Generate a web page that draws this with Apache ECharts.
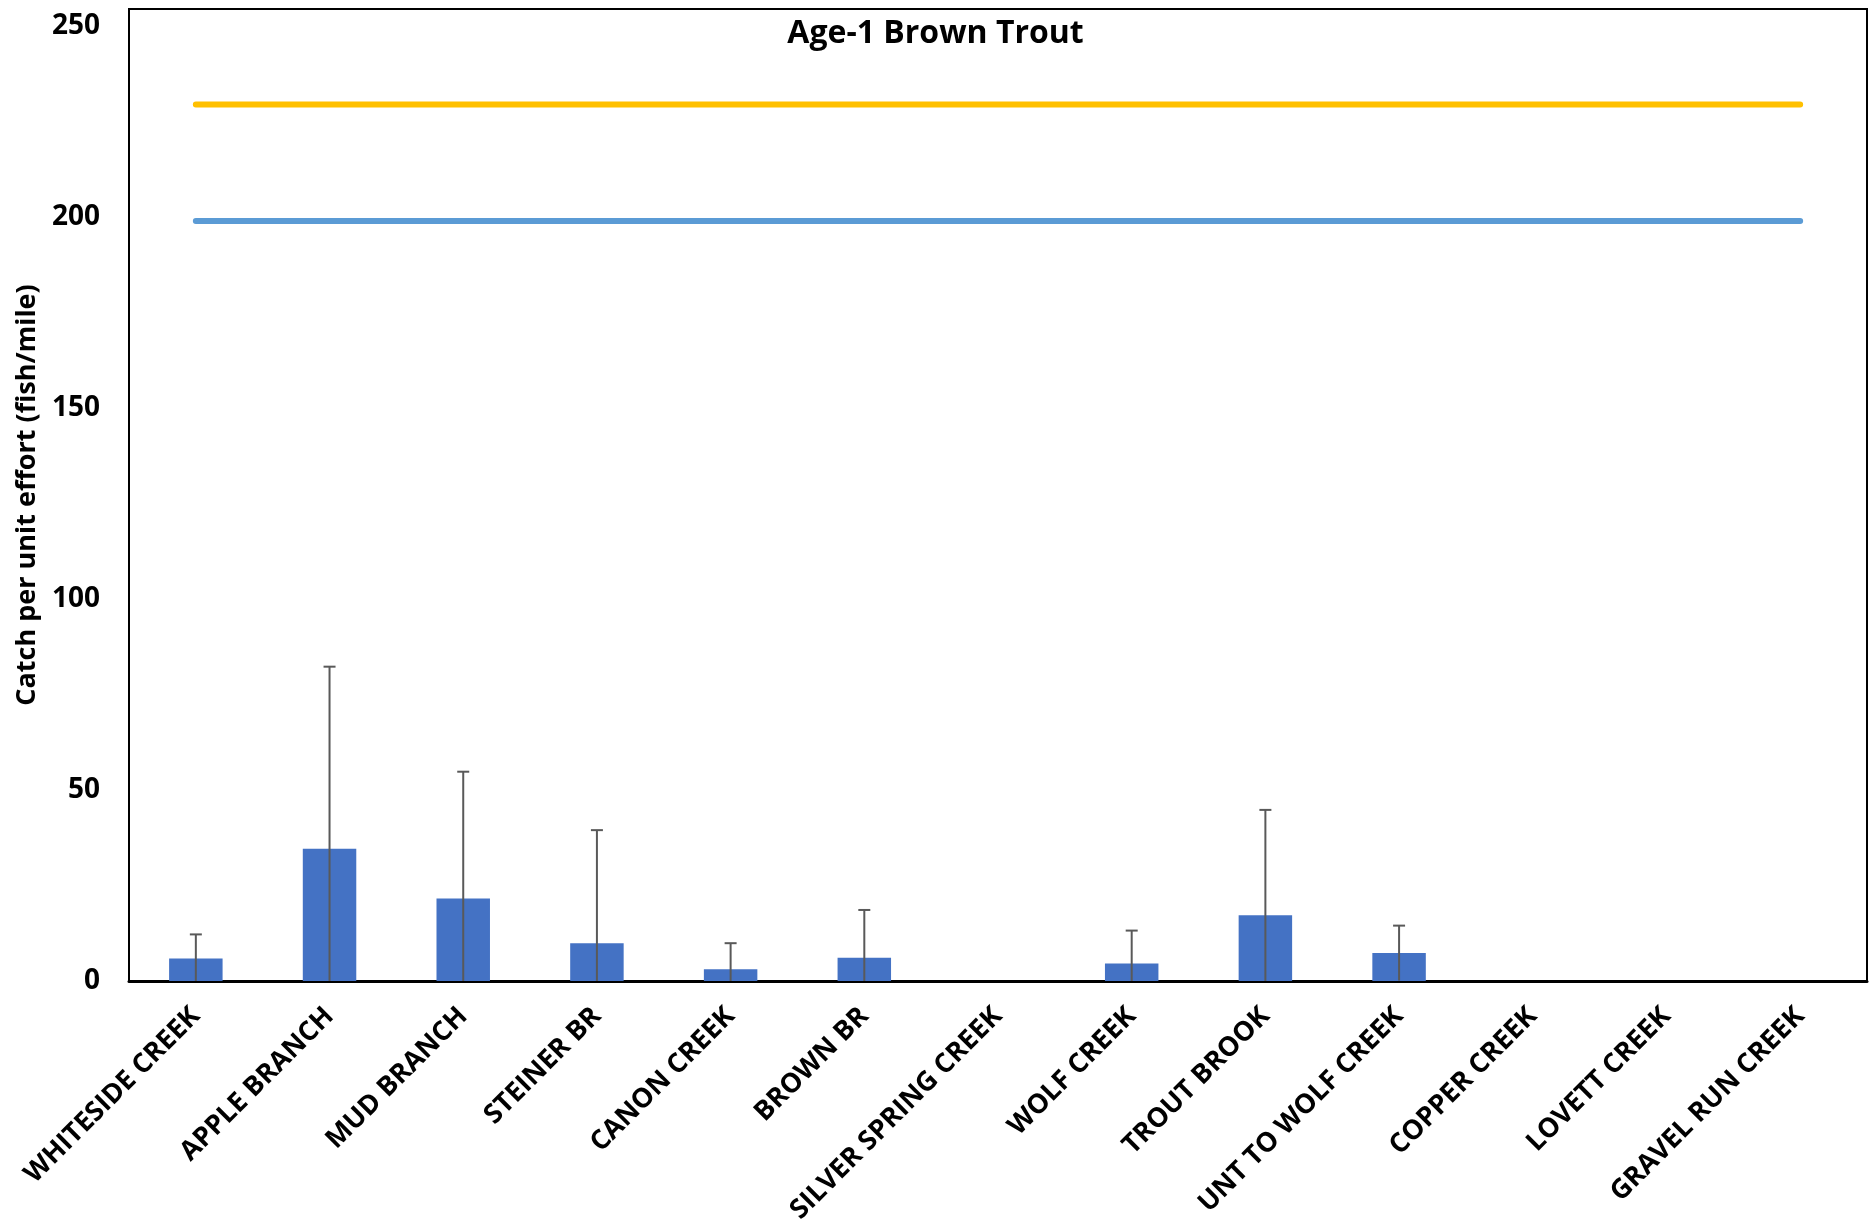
<!DOCTYPE html>
<html>
<head>
<meta charset="utf-8">
<script src="https://cdn.jsdelivr.net/npm/echarts@6/dist/echarts.min.js"></script>
<style>
  html, body { margin: 0; padding: 0; background: #fff; }
  #chart { width: 1871px; height: 1222px; }
</style>
</head>
<body>
<div id="chart"></div>
<script>
// Sampled streams
const streams = [
  'WHITESIDE CREEK', 'APPLE BRANCH', 'MUD BRANCH', 'STEINER BR', 'CANON CREEK',
  'BROWN BR', 'SILVER SPRING CREEK', 'WOLF CREEK', 'TROUT BROOK', 'UNT TO WOLF CREEK',
  'COPPER CREEK', 'LOVETT CREEK', 'GRAVEL RUN CREEK'
];

// Mean catch per unit effort (fish/mile)
const meanCpue = [5.9, 34.6, 21.6, 9.9, 3.1, 6.1, 0, 4.6, 17.2, 7.3, 0, 0, 0];

// Standard deviation of catch per unit effort
const sdCpue = [6.3, 47.7, 33.2, 29.6, 6.8, 12.5, 0, 8.6, 27.6, 7.2, 0, 0, 0];

// Reference levels drawn across all streams
const upperReference = [229.5, 229.5, 229.5, 229.5, 229.5, 229.5, 229.5, 229.5, 229.5, 229.5, 229.5, 229.5, 229.5];
const lowerReference = [199, 199, 199, 199, 199, 199, 199, 199, 199, 199, 199, 199, 199];

// Y axis tick labels
const yTicks = [0, 50, 100, 150, 200, 250];

const FONT = '"Open Sans", "Noto Sans", sans-serif';

// Error bar segments: [category index, lower end, upper end]
const errorData = meanCpue.map((m, i) => [i, Math.max(0, m - sdCpue[i]), m + sdCpue[i]]);

const chart = echarts.init(document.getElementById('chart'), null, { renderer: 'canvas' });

chart.setOption({
  animation: false,
  backgroundColor: '#ffffff',
  title: {
    text: 'Age-1 Brown Trout',
    left: 'center',
    top: 13,
    textStyle: { fontFamily: FONT, fontWeight: 'bold', fontSize: 32, color: '#000' }
  },
  grid: {
    left: 129, right: 4, top: 9, bottom: 241,
    outerBoundsMode: 'none',
    containLabel: false,
    show: true, borderColor: '#000', borderWidth: 2, backgroundColor: 'transparent'
  },
  xAxis: {
    type: 'category',
    data: streams,
    axisLine: { show: true, lineStyle: { color: '#000', width: 3 } },
    axisTick: { show: false },
    axisLabel: {
      rotate: 45,
      interval: 0,
      margin: 31,
      fontFamily: FONT,
      fontWeight: 'bold',
      fontSize: 27,
      color: '#000'
    }
  },
  yAxis: {
    type: 'value',
    min: 0,
    max: 254.5,
    interval: 50,
    name: 'Catch per unit effort (fish/mile)',
    nameLocation: 'middle',
    nameRotate: 90,
    nameGap: 86,
    nameTextStyle: { fontFamily: FONT, fontWeight: 'bold', fontSize: 27, color: '#000' },
    axisLine: { show: false },
    axisTick: { show: false },
    splitLine: { show: false },
    axisLabel: {
      customValues: yTicks,
      margin: 29,
      fontFamily: FONT,
      fontWeight: 'bold',
      fontSize: 28,
      color: '#000'
    }
  },
  series: [
    {
      name: 'Mean CPUE',
      type: 'bar',
      data: meanCpue,
      barWidth: '40%',
      itemStyle: { color: '#4472C4' },
      z: 2
    },
    {
      name: 'SD',
      type: 'custom',
      data: errorData,
      z: 3,
      renderItem: function (params, api) {
        if (api.value(2) <= 0) return null;
        const idx = api.value(0);
        const lo = api.coord([idx, api.value(1)]);
        const hi = api.coord([idx, api.value(2)]);
        const cap = 6;
        const style = { stroke: '#595959', lineWidth: 2 };
        return {
          type: 'group',
          children: [
            { type: 'line', shape: { x1: lo[0], y1: lo[1], x2: hi[0], y2: hi[1] }, style: style },
            { type: 'line', shape: { x1: hi[0] - cap, y1: hi[1], x2: hi[0] + cap, y2: hi[1] }, style: style }
          ]
        };
      }
    },
    {
      name: 'Upper reference',
      type: 'line',
      data: upperReference,
      symbol: 'none',
      lineStyle: { color: '#FFC000', width: 6, cap: 'round' },
      z: 4
    },
    {
      name: 'Lower reference',
      type: 'line',
      data: lowerReference,
      symbol: 'none',
      lineStyle: { color: '#5B9BD5', width: 6, cap: 'round' },
      z: 4
    }
  ]
});
</script>
</body>
</html>
